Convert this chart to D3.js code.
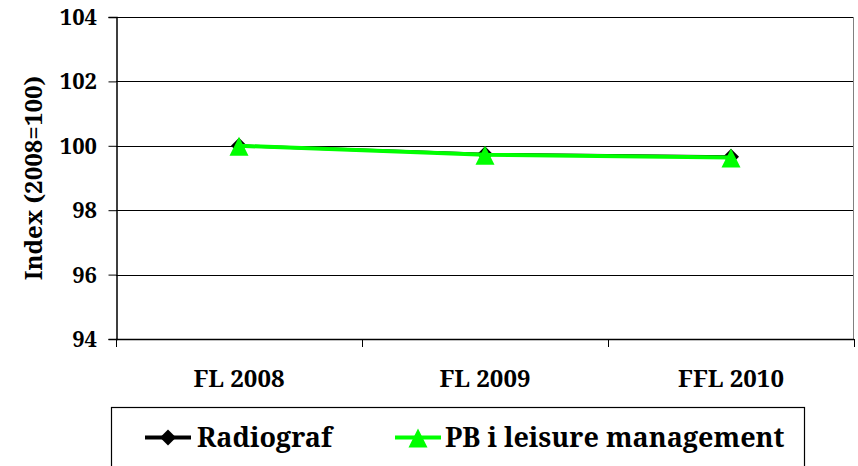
<!DOCTYPE html>
<html>
<head>
<meta charset="utf-8">
<script src="https://cdn.jsdelivr.net/npm/d3@7"></script>
<style>body { margin: 0; }</style>
</head>
<body>
<svg id="chart" width="858" height="466"></svg>
<script>
const categories = ["FL 2008", "FL 2009", "FFL 2010"];
const radiograf = [100, 99.74, 99.66];
const leisure = [100, 99.72, 99.64];
const yTicks = [94, 96, 98, 100, 102, 104];
const seriesNames = ["Radiograf", "PB i leisure management"];

const config = {
  width: 858,
  height: 466,
  margin: { top: 17, right: 4, bottom: 127, left: 116 },
};

const svg = d3.select("#chart");

// bold serif text, set inline on every element
function serif(sel, size) {
  return sel
    .style("font-family", "'Noto Serif', 'Liberation Serif', serif")
    .style("font-weight", "bold")
    .style("font-size", size + "px")
    .attr("fill", "#000");
}

const innerWidth = config.width - config.margin.left - config.margin.right;
const innerHeight = config.height - config.margin.top - config.margin.bottom;

const chart = svg.append("g")
  .attr("transform", `translate(${config.margin.left}, ${config.margin.top})`);

const xscale = d3.scaleBand().domain(categories).range([0, innerWidth]);
const yscale = d3.scaleLinear().domain([94, 104]).range([innerHeight, 0]);

// gridlines
chart.append("g")
  .selectAll("line")
  .data(yTicks.slice(1))
  .join("line")
  .attr("x1", 0)
  .attr("x2", innerWidth)
  .attr("y1", (d) => Math.round(yscale(d)) + 0.5)
  .attr("y2", (d) => Math.round(yscale(d)) + 0.5)
  .attr("stroke", "#000")
  .attr("stroke-width", 1);

// right border
chart.append("line")
  .attr("x1", innerWidth - 0.5).attr("x2", innerWidth - 0.5)
  .attr("y1", 0).attr("y2", innerHeight)
  .attr("stroke", "#808080");

// y axis
const yaxis = d3.axisLeft(yscale).tickValues(yTicks).tickSize(8).tickFormat("");
const yaxisGroup = chart.append("g").attr("transform", "translate(0.5,0)").call(yaxis);
yaxisGroup.select(".domain").attr("stroke", "#000").attr("stroke-width", 1.5);
yaxisGroup.selectAll(".tick line").attr("stroke", "#000");
yaxisGroup.selectAll(".tick text").remove();

chart.selectAll(".ylabel")
  .data(yTicks)
  .join("text")
  .attr("class", "ylabel")
  .attr("x", -19)
  .attr("y", (d) => yscale(d))
  .attr("dy", "0.36em")
  .attr("text-anchor", "end")
  .call(serif, 22)
  .text((d) => d);

// x axis
const xaxisGroup = chart.append("g").attr("transform", `translate(0, ${innerHeight})`);
xaxisGroup.append("line")
  .attr("x1", 0).attr("x2", innerWidth)
  .attr("y1", 0.5).attr("y2", 0.5)
  .attr("stroke", "#000").attr("stroke-width", 1.5);
const edges = categories.map((c) => xscale(c)).concat([xscale(categories[categories.length - 1]) + xscale.bandwidth()]);
xaxisGroup.selectAll(".xtick")
  .data(edges)
  .join("line")
  .attr("class", "xtick")
  .attr("x1", (d) => Math.round(d) + 0.5).attr("x2", (d) => Math.round(d) + 0.5)
  .attr("y1", 0).attr("y2", 8)
  .attr("stroke", "#000");
xaxisGroup.selectAll(".xlabel")
  .data(categories)
  .join("text")
  .attr("class", "xlabel")
  .attr("x", (d) => xscale(d) + xscale.bandwidth() / 2)
  .attr("y", 48)
  .attr("text-anchor", "middle")
  .call(serif, 24)
  .text((d) => d);

// y title
svg.append("text")
  .attr("transform", `translate(42, 178) rotate(-90)`)
  .attr("text-anchor", "middle")
  .call(serif, 24)
  .text("Index (2008=100)");

// marker paths
const diamond = "M0,-8L8,0L0,8L-8,0Z";
const triangle = "M0,-9L9.5,10L-9.5,10Z";
const xc = (i) => xscale(categories[i]) + xscale.bandwidth() / 2;

const line = d3.line()
  .x((d, i) => xc(i))
  .y((d) => yscale(d));

chart.append("path")
  .datum(radiograf)
  .attr("d", line)
  .attr("fill", "none")
  .attr("stroke", "#000")
  .attr("stroke-width", 3);

chart.selectAll(".diamond")
  .data(radiograf)
  .join("path")
  .attr("class", "diamond")
  .attr("d", diamond)
  .attr("transform", (d, i) => `translate(${xc(i)}, ${yscale(d)})`)
  .attr("fill", "#000");

chart.append("path")
  .datum(leisure)
  .attr("d", line)
  .attr("fill", "none")
  .attr("stroke", "#00ff00")
  .attr("stroke-width", 4);

chart.selectAll(".triangle")
  .data(leisure)
  .join("path")
  .attr("class", "triangle")
  .attr("d", triangle)
  .attr("transform", (d, i) => `translate(${xc(i)}, ${yscale(d)})`)
  .attr("fill", "#00ff00");

// legend
const legend = svg.append("g");
legend.append("rect")
  .attr("x", 111.5).attr("y", 407.5)
  .attr("width", 693).attr("height", 80)
  .attr("fill", "#fff")
  .attr("stroke", "#000")
  .attr("stroke-width", 1.2);

const legendItems = [
  { name: seriesNames[0], x: 145, color: "#000", marker: diamond, tx: 197 },
  { name: seriesNames[1], x: 395, color: "#00ff00", marker: triangle, tx: 445 },
];
legendItems.forEach((it) => {
  legend.append("line")
    .attr("x1", it.x).attr("x2", it.x + 46)
    .attr("y1", 437.5).attr("y2", 437.5)
    .attr("stroke", it.color).attr("stroke-width", 4);
  legend.append("path")
    .attr("d", it.marker)
    .attr("transform", `translate(${it.x + 23}, 437.5)`)
    .attr("fill", it.color);
  legend.append("text")
    .attr("x", it.tx)
    .attr("y", 447)
    .call(serif, 27)
    .text(it.name);
});
</script>
</body>
</html>
